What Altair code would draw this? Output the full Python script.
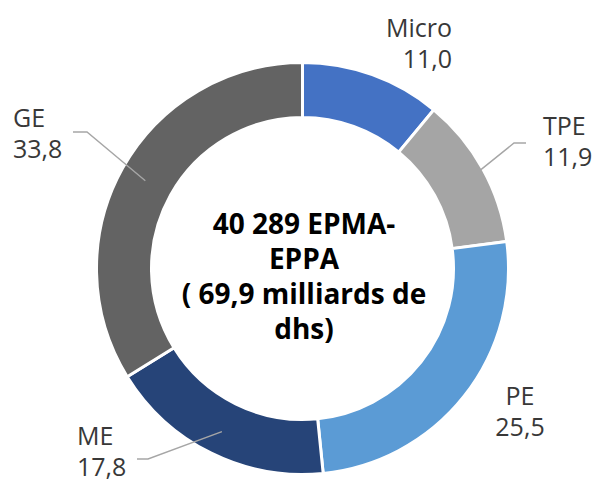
import math
import pandas as pd
import altair as alt

# ---- data ----
categories = ["Micro", "TPE", "PE", "ME", "GE"]
values = [11.0, 11.9, 25.5, 17.8, 33.8]
colors = ["#4472C4", "#A5A5A5", "#5B9BD5", "#264478", "#636363"]
center_lines = ["40 289 EPMA-", "EPPA", "( 69,9 milliards de", "dhs)"]

# ---- layout (plot pixels) ----
W, H = 587, 476
CX, CY = 294.5, 260.5
R_OUT, R_IN = 206, 151
label_layout = {          # anchor x, first baseline y, align
    "Micro": (444, 29, "right"),
    "TPE": (535, 127, "left"),
    "PE": (512, 397, "center"),
    "ME": (69, 437, "left"),
    "GE": (5, 119, "left"),
}
leader_layout = {         # start radius, elbow, end
    "TPE": (204, (506, 135), (518, 135)),
    "ME": (182, (140, 451), (129, 451)),
    "GE": (180, (79, 124), (65, 124)),
}

df = pd.DataFrame({"cat": categories, "value": values, "idx": range(len(values))})
total = sum(values)

# leader lines start at the slice mid-angle
rows = []
cum = 0.0
for c, v in zip(categories, values):
    mid = 2 * math.pi * (cum + v / 2) / total
    cum += v
    if c in leader_layout:
        r, elbow, end = leader_layout[c]
        rows.append({"cat": c, "k": 0, "x": CX + r * math.sin(mid), "y": CY - r * math.cos(mid)})
        rows.append({"cat": c, "k": 1, "x": elbow[0], "y": elbow[1]})
        rows.append({"cat": c, "k": 2, "x": end[0], "y": end[1]})
lines_df = pd.DataFrame(rows)

lab_rows = []
for c, v in zip(categories, values):
    x, y, a = label_layout[c]
    lab_rows.append({"cat": c, "x": x, "y": y, "align": a,
                     "t": c + "\n" + f"{v:.1f}".replace(".", ",")})
lab_df = pd.DataFrame(lab_rows)

xs = alt.Scale(domain=[0, W], range=[0, W], zero=False, nice=False)
ys = alt.Scale(domain=[0, H], range=[0, H], zero=False, nice=False)

arc = alt.Chart(df).mark_arc(
    innerRadius=R_IN, outerRadius=R_OUT, stroke="white", strokeWidth=3
).encode(
    theta=alt.Theta("value:Q", stack=True),
    color=alt.Color("cat:N", scale=alt.Scale(domain=categories, range=colors), legend=None),
    order=alt.Order("idx:Q"),
    x=alt.value(CX),
    y=alt.value(CY),
)

leaders = alt.Chart(lines_df).mark_line(color="#A6A6A6", strokeWidth=1.4).encode(
    x=alt.X("x:Q", scale=xs, axis=None),
    y=alt.Y("y:Q", scale=ys, axis=None),
    detail="cat:N",
    order="k:Q",
)

text_layers = []
for a in ["left", "right", "center"]:
    text_layers.append(
        alt.Chart(lab_df).transform_filter(alt.datum.align == a).mark_text(
            align=a, baseline="alphabetic", lineBreak="\n", lineHeight=31,
            font="Open Sans", fontSize=25, color="#383838"
        ).encode(
            x=alt.X("x:Q", scale=xs, axis=None),
            y=alt.Y("y:Q", scale=ys, axis=None),
            text="t:N",
        )
    )

center_df = pd.DataFrame({"t": ["\n".join(center_lines)]})
center = alt.Chart(center_df).mark_text(
    align="center", baseline="alphabetic", lineBreak="\n", lineHeight=35,
    font="Open Sans", fontWeight="bold", fontSize=28, color="#000000"
).encode(
    x=alt.value(296), y=alt.value(226), text="t:N"
)

chart = alt.layer(arc, leaders, *text_layers, center).properties(
    width=W, height=H, padding=0, autosize="none", background="white"
).configure_view(strokeWidth=0)

chart.save("out.html", embed_options={"renderer": "svg", "actions": False})
